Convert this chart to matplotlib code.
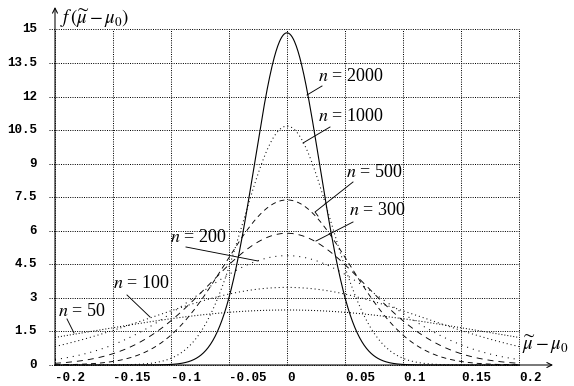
import numpy as np
import matplotlib
matplotlib.use("Agg")
import matplotlib.pyplot as plt

plt.rcParams['mathtext.fontset'] = 'stix'
plt.rcParams['font.family'] = ['Liberation Serif', 'DejaVu Serif']
plt.rcParams['lines.scale_dashes'] = False

# ---- data ----
sample_sizes = [2000, 1000, 500, 300, 200, 100, 50]
peak_heights = [14.85, 10.68, 7.38, 5.89, 4.89, 3.47, 2.46]   # f(0) for each n
spreads      = [0.0280, 0.0374, 0.0541, 0.0677, 0.0816, 0.118, 0.170]  # std-dev read from widths
y_ticks = [0, 1.5, 3, 4.5, 6, 7.5, 9, 10.5, 12, 13.5, 15]
y_tick_labels = ["0", "1.5", "3", "4.5", "6", "7.5", "9", "10.5", "12", "13.5", "15"]
x_ticks = [-0.2, -0.15, -0.1, -0.05, 0, 0.05, 0.1, 0.15, 0.2]
x_tick_labels = ["-0.2", "-0.15", "-0.1", "-0.05", "0", "0.05", "0.1", "0.15", "0.2"]

# ---- styles (dash lengths in points; 1px = 0.72pt) ----
P = 0.72
styles = {
    2000: dict(ls='-', lw=0.8),
    1000: dict(ls=(0, (1 * P, 3 * P)), lw=0.75),
    500:  dict(ls=(0, (5 * P, 4 * P)), lw=0.65),
    300:  dict(ls=(0, (6 * P, 5 * P)), lw=0.65),
    200:  dict(ls=(0, (1 * P, 5 * P)), lw=0.75),
    100:  dict(ls=(0, (1 * P, 3 * P)), lw=0.75),
    50:   dict(ls=(0, (1 * P, 2 * P)), lw=0.75),
}

W, H = 574, 386
fig = plt.figure(figsize=(W / 100, H / 100), dpi=100)
ax = fig.add_axes([0, 0, 1, 1])
ax.set_axis_off()

X0PX, PXPERX = 287.0, 1160.0
Y0PX, PXPERY = 365.0, 22.37
ax.set_xlim(-X0PX / PXPERX, (W - X0PX) / PXPERX)
ax.set_ylim((Y0PX - H) / PXPERY, Y0PX / PXPERY)

def px(p):
    return (p - X0PX) / PXPERX

def py(p):
    return (Y0PX - p) / PXPERY

grid_kw = dict(color='black', lw=0.72, ls=(0, (P, 1.3 * P)), antialiased=True)
for yv in y_ticks:
    ax.plot([px(49), 0.2], [yv, yv], **grid_kw)
for xv in x_ticks:
    ax.plot([xv, xv], [0, 15], **grid_kw)

# tick labels
for yv, lab in zip(y_ticks, y_tick_labels):
    ax.text(px(37), yv, lab, ha='right', va='center', family='Liberation Mono',
            fontweight='bold', fontsize=9)
for xv, lab in zip(x_ticks, x_tick_labels):
    ax.text(xv, py(378), lab, ha='left', va='center', family='Liberation Mono',
            fontweight='bold', fontsize=9)

# curves
xs = np.linspace(-0.2, 0.2, 801)
for n, pk, s in zip(sample_sizes, peak_heights, spreads):
    ys = pk * np.exp(-0.5 * (xs / s) ** 2)
    ax.plot(xs, ys, color='black', antialiased=True, **styles[n])

# axes with arrows
arrow_kw = dict(arrowstyle='->', lw=0.75, shrinkA=0, shrinkB=0, mutation_scale=9, color='black')
ax.annotate('', xy=(-0.2, py(7)), xytext=(-0.2, 0), arrowprops=arrow_kw)
ax.annotate('', xy=(px(553), 0), xytext=(-0.2, 0), arrowprops=arrow_kw)

ax.text(px(60), py(19), r'$f\,(\widetilde{\mu}-\mu_0)$', ha='left', va='center', fontsize=13.5)
ax.text(px(522), py(345), r'$\widetilde{\mu}-\mu_0$', ha='left', va='center', fontsize=13.5)

# curve labels with leader lines
labels = {
    2000: ((318, 77), [(322, 86), (307, 95)]),
    1000: ((318, 117), [(330, 127), (303, 143)]),
    500:  ((346, 173), [(353, 182), (315, 212), (318, 216)]),
    300:  ((349, 211), [(353, 222), (316, 241)]),
    200:  ((170, 238), [(186, 247), (258, 261)]),
    100:  ((113, 284), [(127, 295), (150, 317)]),
    50:   ((58, 311), [(67, 319), (74, 333)]),
}
for n, ((tx, ty), pts) in labels.items():
    ax.text(px(tx), py(ty), r'$n$ = %d' % n, ha='left', va='center', fontsize=13)
    ax.plot([px(p[0]) for p in pts], [py(p[1]) for p in pts], color='black', lw=0.65)

fig.savefig('out.png', dpi=100)
